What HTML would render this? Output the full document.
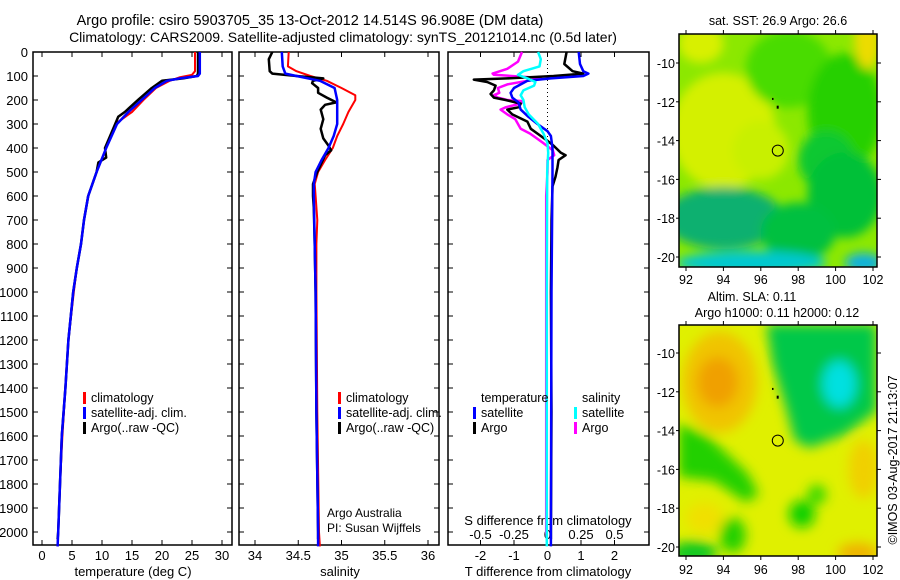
<!DOCTYPE html>
<html><head><meta charset="utf-8"><style>
body{margin:0;background:#fff}
svg{display:block;font-family:"Liberation Sans",sans-serif}
text{fill:#000}
</style></head><body>
<svg id="s" width="900" height="580" viewBox="0 0 900 580" xmlns="http://www.w3.org/2000/svg">
<defs>
<clipPath id="c1"><rect x="679" y="34" width="198" height="233"/></clipPath>
<clipPath id="c2"><rect x="679" y="325" width="198" height="231"/></clipPath>
<filter id="b1" x="-20%" y="-20%" width="140%" height="140%"><feGaussianBlur stdDeviation="5"/></filter>
<filter id="b2" x="-20%" y="-20%" width="140%" height="140%"><feGaussianBlur stdDeviation="6"/></filter>
</defs>
<text x="310" y="25" font-size="14.5" text-anchor="middle">Argo profile: csiro 5903705_35 13-Oct-2012 14.514S 96.908E (DM data)</text>
<text x="343" y="42" font-size="14" text-anchor="middle">Climatology: CARS2009. Satellite-adjusted climatology: synTS_20121014.nc (0.5d later)</text>
<g id="g"></g>
</svg>
<script>
// ---- data ----
const depthTicks=[0,100,200,300,400,500,600,700,800,900,1000,1100,1200,1300,1400,1500,1600,1700,1800,1900,2000];
const tempTicks=[0,5,10,15,20,25,30];
const salTicks=[34,34.5,35,35.5,36];
const dTTicks=[-2,-1,0,1,2];
const dSTicks=[-0.5,-0.25,0,0.25,0.5];
const dSTickLabels=["-0.5","-0.25","0","0.25","0.5"];
const lonTicks=[92,94,96,98,100,102];
const latTicks=[-10,-12,-14,-16,-18,-20];

const tClimD=[0,80,95,105,120,150,200,250,300,400,500,600,700,800,900,1000,1200,1400,1600,1800,2000,2060];
const tClim=[25.5,25.5,25,23,21.3,19,16.9,15,12.2,10.7,9.1,7.7,7.0,6.5,5.8,5.3,4.4,3.9,3.4,3.0,2.7,2.6];
const tSatD=[0,90,100,110,120,150,200,250,300,400,500,600,700,800,900,1000,1200,1400,1600,1800,2000,2060];
const tSat=[26.3,26.3,26,23,20.8,18.8,16.6,14.4,12.5,10.7,9.1,7.7,7.0,6.5,5.8,5.2,4.4,3.9,3.3,3.0,2.7,2.6];
const tArgoD=[0,90,100,110,120,150,200,250,270,300,400,440,460,500,600,700,800,900,1000,1200,1400,1600,1800,2000,2030];
const tArgo=[26,26,25.8,23.5,20,18.3,16,13.8,12.7,12.2,10.5,10.7,9.4,9.1,7.7,7.0,6.5,5.8,5.2,4.4,3.9,3.3,3.0,2.7,2.6];

const sClimD=[0,60,80,100,120,150,180,200,250,300,350,400,450,500,550,600,700,800,1000,1500,2000,2060];
const sClim=[34.39,34.38,34.48,34.64,34.83,35.0,35.16,35.16,35.08,35.02,34.95,34.9,34.81,34.73,34.69,34.7,34.72,34.71,34.71,34.72,34.74,34.75];
const sSatD=[0,60,90,100,120,150,200,250,300,350,400,450,500,550,600,800,1000,1500,2000,2060];
const sSat=[34.31,34.32,34.35,34.48,34.75,34.92,34.95,34.95,34.95,34.91,34.85,34.77,34.7,34.68,34.68,34.69,34.7,34.71,34.73,34.73];
const sArgoD=[0,30,80,90,100,110,120,130,150,170,190,210,220,240,280,320,360,390,410,430,500,550,600,650,800,1000,1500,2000,2030];
const sArgo=[34.2,34.16,34.17,34.2,34.48,34.79,34.67,34.66,34.73,34.73,34.83,34.94,34.81,34.76,34.79,34.76,34.79,34.85,34.88,34.81,34.72,34.67,34.67,34.68,34.69,34.7,34.71,34.73,34.73];

const dTArgoD=[0,50,80,90,100,110,115,125,140,160,175,190,200,215,230,240,260,290,320,340,370,390,420,430,450,480,520,560,700,1000,1500,2000,2030];
const dTArgo=[0.57,0.5,0.75,1.07,0.18,-1.2,-2.2,-1.8,-1.55,-1.6,-1.7,-1.6,-1.25,-0.8,-0.85,-1.2,-1.05,-0.6,-0.5,-0.3,0,0.18,0.4,0.54,0.33,0.3,0.24,0.15,0.12,0.1,0.12,0.1,0.1];
const dTSatD=[0,50,80,90,100,110,120,135,150,170,190,210,240,270,300,330,350,400,500,1000,2000,2060];
const dTSat=[0.93,0.97,1.07,1.22,1.07,0.1,-0.6,-0.8,-1.0,-1.1,-1.05,-0.87,-0.8,-0.57,-0.3,0,0.1,0.15,0.15,0.12,0.1,0.1];
const dSArgoD=[0,40,70,90,95,105,110,120,135,150,170,180,190,200,205,215,230,240,260,280,300,320,340,360,380,410,430,450,500,600,1000,2000,2030];
const dSArgo=[-0.19,-0.22,-0.3,-0.41,-0.4,-0.13,-0.05,-0.15,-0.3,-0.37,-0.36,-0.4,-0.37,-0.3,-0.18,-0.2,-0.31,-0.35,-0.3,-0.24,-0.22,-0.2,-0.13,-0.08,-0.03,0.04,0.05,0,0,-0.01,-0.01,-0.01,-0.005];
const dSSatD=[0,30,60,80,95,110,125,140,160,180,200,230,260,300,340,380,420,500,1000,2000,2060];
const dSSat=[-0.07,-0.05,-0.06,-0.18,-0.22,-0.15,-0.09,-0.1,-0.18,-0.2,-0.18,-0.17,-0.14,-0.07,-0.03,0,0.005,-0.002,-0.005,-0.005,-0.005];

const argoLon=96.908, argoLat=-14.514;

// ---- scales ----
const yD=d=>52+d*0.24;
const xT=t=>42+6*t;
const xS=s=>255+(s-34)*86.5;
const xdT=t=>547.5+33.5*t;
const xdS=s=>547.5+134*s;
const lonX=l=>686+(l-92)*18.7;
const latY=(la,off)=>63+off+(-10-la)*19.4;

const NS='http://www.w3.org/2000/svg';
const G=document.getElementById('g');
function mk(tag,attrs,parent){const e=document.createElementNS(NS,tag);for(const k in attrs)e.setAttribute(k,attrs[k]);(parent||G).appendChild(e);return e;}
function txt(x,y,s,size,anchor,parent){const e=mk('text',{x:x,y:y,'font-size':size,'text-anchor':anchor||'start'},parent);e.textContent=s;return e;}

// ---- panels ----
const panels=[[33,232],[239,439],[448,649]];
const pnames=['temperature-panel','salinity-panel','difference-panel'];
panels.forEach((p,i)=>{
  const r=mk('rect',{x:p[0],y:52,width:p[1]-p[0],height:493,fill:'none',stroke:'#000','stroke-width':1.5});
  
  
  depthTicks.forEach(d=>{
    mk('line',{x1:p[0],x2:p[0]+5,y1:yD(d),y2:yD(d),stroke:'#000'});
    mk('line',{x1:p[1]-5,x2:p[1],y1:yD(d),y2:yD(d),stroke:'#000'});
  });
});
depthTicks.forEach(d=>{
  const t=txt(28,yD(d)+5,String(d),13,'end');
  
  
});
tempTicks.forEach(v=>{
  mk('line',{x1:xT(v),x2:xT(v),y1:545,y2:540,stroke:'#000'});
  mk('line',{x1:xT(v),x2:xT(v),y1:52,y2:57,stroke:'#000'});
  const t=txt(xT(v),560,String(v),13,'middle');
  
  
});
salTicks.forEach(v=>{
  mk('line',{x1:xS(v),x2:xS(v),y1:545,y2:540,stroke:'#000'});
  mk('line',{x1:xS(v),x2:xS(v),y1:52,y2:57,stroke:'#000'});
  const t=txt(xS(v),560,String(v),13,'middle');
  
  
});
dTTicks.forEach(v=>{
  mk('line',{x1:xdT(v),x2:xdT(v),y1:545,y2:540,stroke:'#000'});
  mk('line',{x1:xdT(v),x2:xdT(v),y1:52,y2:57,stroke:'#000'});
  const t=txt(xdT(v),560,String(v),13,'middle');
  
  
});
dSTicks.forEach((v,i)=>{
  const t=txt(xdS(v),539,dSTickLabels[i],13,'middle');
  
  
});
mk('line',{x1:xdT(0),x2:xdT(0),y1:52,y2:545,stroke:'#000','stroke-dasharray':'1,3'});
[[133,'temperature (deg C)','temperature-axis-title'],[340,'salinity','salinity-axis-title'],[548,'T difference from climatology','t-diff-axis-title']].forEach(a=>{
  const t=txt(a[0],576,a[1],13,'middle');
  
  
});
{const t=txt(548,525,'S difference from climatology',13,'middle');

}

function line(ds,vs,fx,color,w,name){
  const pts=ds.map((d,i)=>fx(vs[i]).toFixed(1)+','+yD(d).toFixed(1)).join(' ');
  const e=mk('polyline',{points:pts,fill:'none',stroke:color,'stroke-width':w,'stroke-linejoin':'round'});
  
  
}
line(tClimD,tClim,xT,'#f00',2,'temperature-climatology-line');
line(tArgoD,tArgo,xT,'#000',2.5,'temperature-argo-line');
line(tSatD,tSat,xT,'#00f',2.5,'temperature-satellite-line');
line(sClimD,sClim,xS,'#f00',2,'salinity-climatology-line');
line(sArgoD,sArgo,xS,'#000',2.5,'salinity-argo-line');
line(sSatD,sSat,xS,'#00f',2.5,'salinity-satellite-line');
line(dSArgoD,dSArgo,xdS,'#f0f',2.5,'s-diff-argo-line');
line(dTArgoD,dTArgo,xdT,'#000',2.5,'t-diff-argo-line');
line(dTSatD,dTSat,xdT,'#00f',2.5,'t-diff-satellite-line');
line(dSSatD,dSSat,xdS,'#0ff',2.5,'s-diff-satellite-line');

// ---- legends ----
function legend(x,y,items,name){
  const g=mk('g',{});
  
  
  items.forEach((it,i)=>{
    const yy=y+i*15;
    if(it[1])mk('rect',{x:x,y:yy-10,width:3,height:12,fill:it[1]},g);
    txt(x+8,yy,it[0],12.5,'start',g);
  });
}
legend(83,402,[['climatology','#f00'],['satellite-adj. clim.','#00f'],['Argo(..raw -QC)','#000']],'temperature-legend');
legend(338,402,[['climatology','#f00'],['satellite-adj. clim.','#00f'],['Argo(..raw -QC)','#000']],'salinity-legend');
legend(473,402,[['temperature',null],['satellite','#00f'],['Argo','#000']],'t-diff-legend');
legend(574,402,[['salinity',null],['satellite','#0ff'],['Argo','#f0f']],'s-diff-legend');
{const g=mk('g',{});
txt(327,517,'Argo Australia',12,'start',g);txt(327,532,'PI: Susan Wijffels',12,'start',g);}

// ---- maps ----
const sstBase='#8ce800';
const sstBlobs=[[94,-13.5,2.8,3,'#d4f000'],[96,-14.5,1.5,1.5,'#c8f000'],[92.8,-9,1.2,1,'#d8f000'],[97.5,-10.3,2.3,2,'#48dc00'],[100.5,-12.5,2,3,'#28d000'],[99.5,-15,1.5,1.5,'#10c830'],[100.5,-16.8,2,2.2,'#00c038'],[94,-18,3.2,1.6,'#10b070'],[98,-18.7,2,1.5,'#00c040'],[95.5,-20.3,4,0.6,'#00c8d0'],[101.5,-20.3,1,0.5,'#10b0e0'],[101.7,-8.8,0.7,1.5,'#ecdc00']];
const slaBase='#e0f000';
const slaBlobs=[[93.8,-11.5,2,2.6,'#f0c400'],[93.7,-11.5,1.1,1.3,'#f0a000'],[101.5,-16,0.8,1.5,'#f0d000'],[101.2,-20.3,1.1,0.5,'#f0b000'],[93,-18.5,1,0.8,'#f0e000'],[98.2,-18.3,0.7,0.7,'#10d000'],[99,-17.3,0.5,0.5,'#30d800'],[94.5,-19.4,0.7,0.9,'#20d000'],[92.4,-20.3,1.3,0.6,'#10c820']];
const slaGreenLon=[96.3,102.2,102.2,100.5,98.6,97.8,97.3,96.6];
const slaGreenLat=[-8.5,-8.5,-13,-14.2,-14.9,-14.5,-12.7,-10.5];
const slaBandLon=[91.6,93.2,95.3,95.9,95.2,93.5,91.6];
const slaBandLat=[-13.6,-14.3,-16.2,-17.3,-17.7,-16.6,-16.4];
const slaCyan=[100.2,-11.6,0.9,1.2,'#00e0e0'];

function map(off,clip,filt,base,blobs,polys,name){
  const g=mk('g',{'clip-path':'url(#'+clip+')'});
  
  
  mk('rect',{x:679,y:34+off,width:198,height:233,fill:base},g);
  const b=mk('g',{filter:'url(#'+filt+')'},g);
  polys.forEach(p=>{
    mk('polygon',{points:p[0].map((l,i)=>lonX(l)+','+latY(p[1][i],off)).join(' '),fill:p[2]},b);
  });
  blobs.forEach(c=>{
    mk('ellipse',{cx:lonX(c[0]),cy:latY(c[1],off),rx:c[2]*18.7,ry:c[3]*19.4,fill:c[4]},b);
  });
  const top=off?325:34, h=off?231:233;
  mk('rect',{x:679,y:top,width:198,height:h,fill:'none',stroke:'#000','stroke-width':1.5});
  const m=mk('circle',{cx:lonX(argoLon),cy:latY(argoLat,off),r:5.5,fill:'none',stroke:'#000','stroke-width':1});
  
  
  mk('rect',{x:lonX(96.6),y:latY(-11.8,off),width:1.5,height:2,fill:'#000'});
  mk('rect',{x:lonX(96.85),y:latY(-12.2,off),width:2,height:3,fill:'#000'});
  lonTicks.forEach(l=>{
    mk('line',{x1:lonX(l),x2:lonX(l),y1:top,y2:top-4,stroke:'#000'});
    mk('line',{x1:lonX(l),x2:lonX(l),y1:top+h,y2:top+h+4,stroke:'#000'});
    const t=txt(lonX(l),284+off,String(l),12.5,'middle');
    
    
  });
  latTicks.forEach(la=>{
    mk('line',{x1:679,x2:676,y1:latY(la,off),y2:latY(la,off),stroke:'#000'});
    mk('line',{x1:877,x2:881,y1:latY(la,off),y2:latY(la,off),stroke:'#000'});
    const t=txt(675,latY(la,off)+5,String(la),12.5,'end');
    
    
  });
}
map(0,'c1','b1',sstBase,sstBlobs,[],'sst-map');
map(290,'c2','b2',slaBase,slaBlobs.concat([slaCyan]),[[slaGreenLon,slaGreenLat,'#00c848'],[slaBandLon,slaBandLat,'#20d000']],'sla-map');
{const t=txt(778,25,'sat. SST: 26.9 Argo: 26.6',12.5,'middle');}
{const t=txt(752,301,'Altim. SLA: 0.11',12.5,'middle');}
{const t=txt(777,317,'Argo h1000: 0.11 h2000: 0.12',12.5,'middle');}
{const t=txt(0,0,'©IMOS 03-Aug-2017 21:13:07',12.5,'middle');t.setAttribute('transform','translate(897,460) rotate(-90)');}
</script>
</body></html>
